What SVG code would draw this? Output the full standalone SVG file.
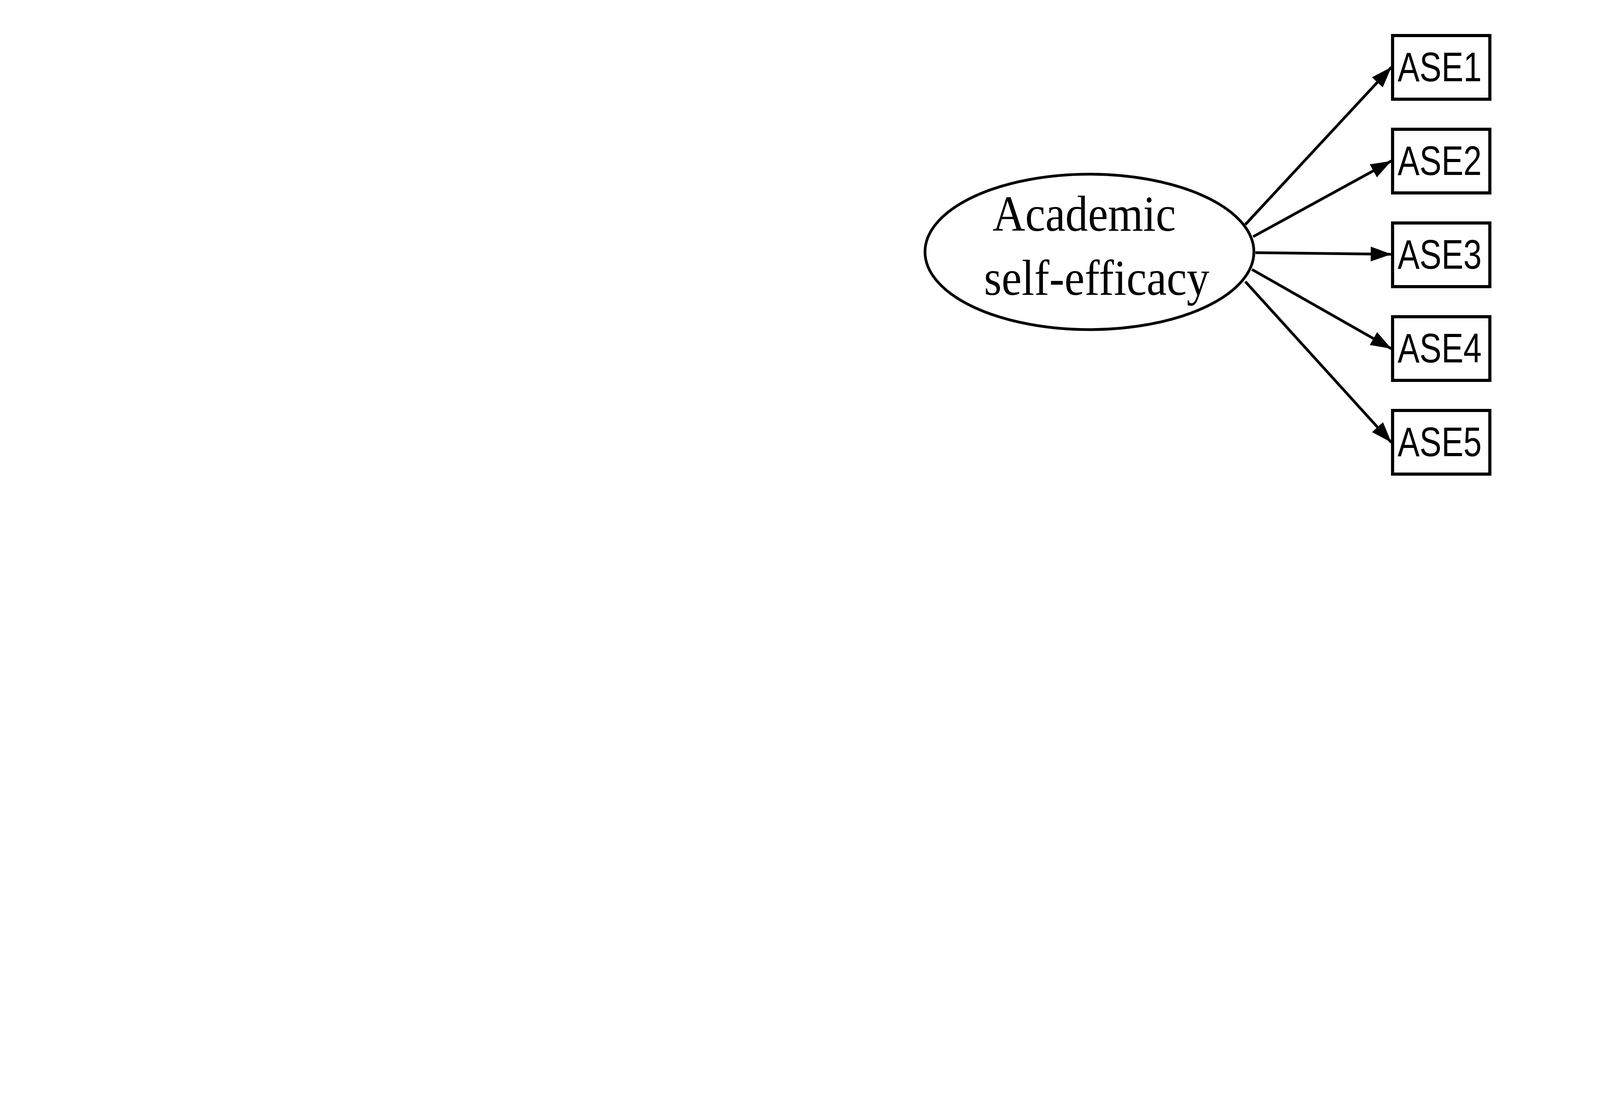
<svg xmlns="http://www.w3.org/2000/svg" width="4550" height="2809" viewBox="0 0 4550 2809">
<style>
.box{fill:#fff;stroke:#000;stroke-width:8}
.lat{fill:#fff;stroke:#000;stroke-width:7}
.lbl{font-family:"Liberation Sans",Arial,sans-serif;font-size:105px;fill:#000}
.lat-t{font-family:"Liberation Serif","Times New Roman",serif;font-size:130px;fill:#000}
.conn{stroke:#000;stroke-width:7;fill:none;marker-end:url(#ah)}
</style>
<defs>
<marker id="ah" markerUnits="userSpaceOnUse" markerWidth="56" markerHeight="40" refX="53" refY="19" orient="auto">
<path d="M0,0 L53,19 L0,38 z" fill="#000"/>
</marker>
</defs>
<rect width="4550" height="2809" fill="#fff"/>
<g id="connectors">
<line class="conn" x1="3188" y1="575" x2="3562" y2="172"/>
<line class="conn" x1="3208" y1="606" x2="3562" y2="412"/>
<line class="conn" x1="3214" y1="647" x2="3562" y2="651"/>
<line class="conn" x1="3205" y1="690" x2="3562" y2="893"/>
<line class="conn" x1="3188" y1="721" x2="3562" y2="1133"/>
</g>
<g id="academic-self-efficacy">
<ellipse class="lat" cx="2789" cy="645" rx="421" ry="199"/>
<text class="lat-t" x="2541" y="591" textLength="469" lengthAdjust="spacingAndGlyphs">Academic</text>
<text class="lat-t" x="2519" y="755" textLength="577" lengthAdjust="spacingAndGlyphs">self-efficacy</text>
</g>
<g id="ASE1"><rect class="box" x="3565" y="91" width="249" height="163"/><text class="lbl" x="3578" y="208" textLength="215" lengthAdjust="spacingAndGlyphs">ASE1</text></g>
<g id="ASE2"><rect class="box" x="3565" y="331" width="249" height="163"/><text class="lbl" x="3578" y="448" textLength="215" lengthAdjust="spacingAndGlyphs">ASE2</text></g>
<g id="ASE3"><rect class="box" x="3565" y="571" width="249" height="163"/><text class="lbl" x="3578" y="688" textLength="215" lengthAdjust="spacingAndGlyphs">ASE3</text></g>
<g id="ASE4"><rect class="box" x="3565" y="811" width="249" height="163"/><text class="lbl" x="3578" y="928" textLength="215" lengthAdjust="spacingAndGlyphs">ASE4</text></g>
<g id="ASE5"><rect class="box" x="3565" y="1051" width="249" height="163"/><text class="lbl" x="3578" y="1168" textLength="215" lengthAdjust="spacingAndGlyphs">ASE5</text></g>
</svg>
